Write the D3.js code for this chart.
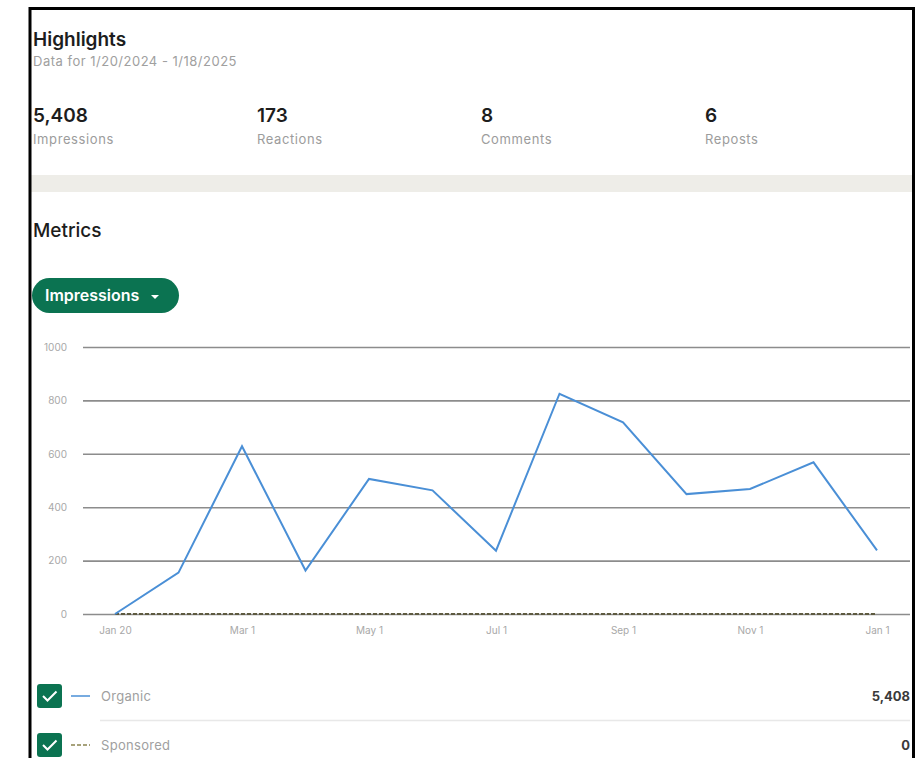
<!DOCTYPE html>
<html>
<head>
<meta charset="utf-8">
<script src="https://cdn.jsdelivr.net/npm/d3@7"></script>
<style>
body{margin:0;background:#fff;font-family:Inter,"Noto Sans",sans-serif;}
svg{display:block;}
</style>
</head>
<body>
<svg></svg>
<script>
// values
var months=["Jan 20","Feb 1","Mar 1","Apr 1","May 1","Jun 1","Jul 1","Aug 1","Sep 1","Oct 1","Nov 1","Dec 1","Jan 1"]
var organic=[0,155,628,163,506,463,237,825,718,449,468,568,238]
var sponsored=[0,0,0,0,0,0,0,0,0,0,0,0,0]
var yTicks=[0,200,400,600,800,1000]
var statValues=["5,408","173","8","6"]
var statNames=["Impressions","Reactions","Comments","Reposts"]
var legendNames=["Organic","Sponsored"]
var legendTotals=["5,408","0"]

var screen={width:924,height:758}
var margins={top:347,right:14,bottom:144,left:83}

var svg=d3.select("svg")
    .attr("width",screen.width)
    .attr("height",screen.height)

// frame
svg.append("rect").attr("x",0).attr("y",0).attr("width",924).attr("height",758).attr("fill","#fff")
svg.append("rect").attr("x",30).attr("y",175).attr("width",883).attr("height",17).attr("fill","#eeede8")
svg.append("line").attr("x1",29).attr("x2",915).attr("y1",8.5).attr("y2",8.5).attr("stroke","#000").attr("stroke-width",3)
svg.append("line").attr("x1",30).attr("x2",30).attr("y1",7).attr("y2",758).attr("stroke","#000").attr("stroke-width",3)
svg.append("line").attr("x1",913.5).attr("x2",913.5).attr("y1",7).attr("y2",758).attr("stroke","#000").attr("stroke-width",3)

// header
svg.append("text").attr("x",33).attr("y",46).text("Highlights")
    .attr("font-size",19).attr("font-weight",600).attr("fill","#1d1d1d")
svg.append("text").attr("x",33).attr("y",66).text("Data for 1/20/2024 - 1/18/2025")
    .attr("font-size",13).attr("letter-spacing",0.5).attr("fill","#a0a0a0")

var stats=svg.selectAll(".stat")
    .data(statValues)
    .enter()
    .append("g")
    .attr("class","stat")
    .attr("transform",function(d,i){return "translate("+(33+i*224)+",0)"})
stats.append("text").attr("y",122).text(function(d){return d})
    .attr("font-size",19).attr("font-weight",600).attr("fill","#1d1d1d")
stats.append("text").attr("y",144).text(function(d,i){return statNames[i]})
    .attr("font-size",13).attr("letter-spacing",0.6).attr("fill","#9c9c9c")

svg.append("text").attr("x",33).attr("y",237).text("Metrics")
    .attr("font-size",19).attr("font-weight",500).attr("fill","#1d1d1d")

// dropdown button
svg.append("rect").attr("x",32).attr("y",278).attr("width",147).attr("height",35).attr("rx",17.5)
    .attr("fill","#0b7351")
svg.append("text").attr("x",45).attr("y",301).text("Impressions")
    .attr("font-size",16).attr("font-weight",600).attr("fill","#fff")
svg.append("path").attr("d","M151,295 l8,0 l-4,4 z").attr("fill","#fff")

// chart
var width=screen.width-margins.left-margins.right
var height=614-margins.top

var graph=svg.append("g")
    .attr("id","graph")
    .attr("transform","translate("+margins.left+","+margins.top+")")

var xScale=d3.scalePoint()
    .domain(months)
    .range([115-margins.left,877-margins.left])

var yScale=d3.scaleLinear()
    .domain([0,1000])
    .range([height,0])

var yAxis=d3.axisLeft(yScale)
    .tickValues(yTicks)
    .tickSize(-width)
    .tickPadding(16)
    .tickFormat(d3.format("d"))

graph.append("g")
    .attr("id","yAxis")
    .call(yAxis)
    .call(function(g){
        g.select(".domain").remove()
        g.selectAll(".tick line").attr("stroke","#8c8c8c").attr("stroke-width",1.6)
        g.selectAll(".tick text").attr("fill","#a8a8a8").attr("font-size",10).attr("font-family","Inter,sans-serif")
    })

var xAxis=d3.axisBottom(xScale)
    .tickValues(months.filter(function(d,i){return i%2==0}))
    .tickSize(0)
    .tickPadding(13)

graph.append("g")
    .attr("id","xAxis")
    .attr("transform","translate(0,"+height+")")
    .call(xAxis)
    .call(function(g){
        g.select(".domain").remove()
        g.selectAll(".tick text").attr("fill","#a8a8a8").attr("font-size",10).attr("font-family","Inter,sans-serif")
    })

var line=d3.line()
    .x(function(d,i){return xScale(months[i])})
    .y(function(d){return yScale(d)})

graph.append("path")
    .datum(sponsored)
    .attr("d",line)
    .attr("fill","none")
    .attr("stroke","#5e5a40")
    .attr("stroke-width",1.8)
    .attr("stroke-dasharray","4,2")

graph.append("path")
    .datum(organic)
    .attr("d",line)
    .attr("fill","none")
    .attr("stroke","#4a8fd6")
    .attr("stroke-width",2)
    .attr("stroke-linejoin","miter")

// legend
var legend=svg.selectAll(".legend")
    .data(legendNames)
    .enter()
    .append("g")
    .attr("class","legend")
    .attr("transform",function(d,i){return "translate(0,"+(684+i*49)+")"})

legend.append("rect").attr("x",37).attr("y",0).attr("width",25).attr("height",24).attr("rx",3)
    .attr("fill","#0b7351")
legend.append("path").attr("d","M43,12 l4.5,4.5 l9,-9").attr("fill","none")
    .attr("stroke","#fff").attr("stroke-width",2)
legend.append("line").attr("x1",71).attr("x2",90).attr("y1",12).attr("y2",12)
    .attr("stroke",function(d,i){return i==0?"#4a8fd6":"#8a8450"})
    .attr("stroke-width",1.5)
    .attr("stroke-dasharray",function(d,i){return i==0?null:"4,2"})
legend.append("text").attr("x",101).attr("y",17).text(function(d){return d})
    .attr("font-size",13).attr("letter-spacing",0.3).attr("fill","#a0a0a0")
legend.append("text").attr("x",910).attr("y",17).attr("text-anchor","end").text(function(d,i){return legendTotals[i]})
    .attr("font-size",13).attr("font-weight",700).attr("fill","#3a3a3a")

svg.append("line").attr("x1",100).attr("x2",910).attr("y1",720.5).attr("y2",720.5)
    .attr("stroke","#e8e8e8").attr("stroke-width",1.5)
</script>
</body>
</html>
